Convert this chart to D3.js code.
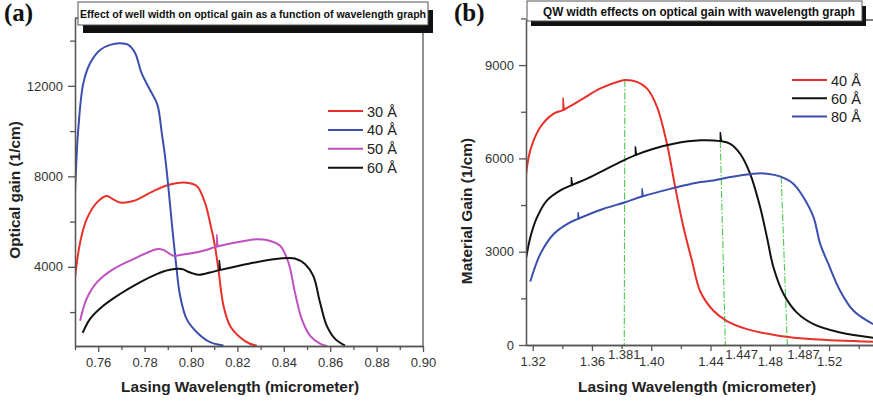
<!DOCTYPE html>
<html>
<head>
<meta charset="utf-8">
<script src="https://cdn.jsdelivr.net/npm/d3@7"></script>
<style>
body{margin:0;background:#fff}
svg{display:block;font-family:"Liberation Sans",Arial,sans-serif}
</style>
</head>
<body>
<div id="chart"></div>
<script>
// ---- panel (a) data : [wavelength (um), optical gain (1/cm)]
var labelsA = ["30 Å", "40 Å", "50 Å", "60 Å"];
var colorsA = ["#e8302a", "#3a4fae", "#c050c0", "#111111"];
var gain30 = [[0.750,3530],[0.7522,5075],[0.755,6100],[0.7594,6840],[0.7637,7130],[0.7665,6980],[0.7695,6840],[0.7751,6910],[0.7838,7350],[0.7909,7640],[0.7981,7720],[0.8025,7570],[0.806,6840],[0.8082,5960],[0.8103,4930],[0.8118,3900],[0.814,2280],[0.8168,1400],[0.8211,890],[0.8254,600],[0.8283,520]];
var gain40 = [[0.750,7280],[0.7514,10070],[0.7536,12120],[0.7565,13000],[0.7608,13590],[0.7651,13810],[0.7694,13880],[0.773,13810],[0.7759,13450],[0.7787,12560],[0.7823,11830],[0.7855,11170],[0.7874,9920],[0.7888,8890],[0.7902,7570],[0.7917,5960],[0.7935,4190],[0.7953,2720],[0.7981,1700],[0.8025,1110],[0.8082,670],[0.814,520]];
var gain50 = [[0.7522,1620],[0.755,2580],[0.7594,3310],[0.7665,3900],[0.7766,4410],[0.7852,4780],[0.7881,4750],[0.7924,4490],[0.7953,4520],[0.8053,4710],[0.8111,4895],[0.8254,5190],[0.8283,5220],[0.8326,5190],[0.8384,4930],[0.842,4190],[0.8448,2870],[0.8477,1700],[0.8513,960],[0.8556,600],[0.8585,500]];
var gain60 = [[0.7533,1080],[0.7565,1700],[0.7622,2280],[0.7694,2800],[0.7766,3240],[0.7852,3680],[0.7909,3870],[0.796,3900],[0.7996,3750],[0.8031,3650],[0.8082,3750],[0.8122,3855],[0.8254,4150],[0.8384,4370],[0.8448,4370],[0.8491,4120],[0.8527,3600],[0.8556,2430],[0.8585,1400],[0.8621,815],[0.8664,520]];
// glitches on the curves: [wavelength, base gain, top gain]
var spike30 = [];
var spike40 = [];
var spike50 = [[0.8111, 4870, 5440]];
var spike60 = [[0.8122, 3830, 4300]];
var xTicksA = [0.76,0.78,0.80,0.82,0.84,0.86,0.88,0.90];
var xMinorA = [0.75,0.77,0.79,0.81,0.83,0.85,0.87,0.89];
var yTicksA = [4000,8000,12000];
var yMinorA = [2000,6000,10000,14000];

// ---- panel (b) data : [wavelength (um), material gain (1/cm)]
var labelsB = ["40 Å", "60 Å", "80 Å"];
var colorsB = ["#e8302a", "#111111", "#3a4fae"];
var gainB40 = [[1.3151,5290],[1.3184,6260],[1.3252,7010],[1.3342,7440],[1.3405,7555],[1.3522,7870],[1.3657,8250],[1.3791,8490],[1.3825,8520],[1.3904,8460],[1.3971,8250],[1.4039,7660],[1.4106,6470],[1.4162,5070],[1.4218,3780],[1.4275,2710],[1.4331,1720],[1.442,1100],[1.4511,770],[1.4646,510],[1.4869,290],[1.5095,185],[1.5497,105]];
var gainB60 = [[1.3151,2660],[1.3184,3460],[1.323,4110],[1.3297,4650],[1.3387,4970],[1.3461,5135],[1.3567,5350],[1.3702,5670],[1.3825,5960],[1.3893,6105],[1.4016,6310],[1.4151,6470],[1.4331,6580],[1.4466,6555],[1.4533,6470],[1.46,6150],[1.4667,5510],[1.4735,4430],[1.4781,3460],[1.4825,2490],[1.4893,1640],[1.4983,1040],[1.5095,670],[1.5275,400],[1.5497,235]];
var gainB80 = [[1.3184,2040],[1.3252,2930],[1.3342,3570],[1.3432,3890],[1.3506,4055],[1.3679,4380],[1.3825,4590],[1.3938,4775],[1.4129,5020],[1.4331,5240],[1.442,5290],[1.4533,5400],[1.469,5510],[1.4781,5510],[1.4869,5420],[1.496,5180],[1.5027,4750],[1.5095,4110],[1.514,3250],[1.5196,2600],[1.5275,1740],[1.5365,1100],[1.5497,670]];
var spikeB40 = [[1.3405, 7540, 7960]];
var spikeB60 = [[1.3461, 5120, 5400], [1.3893, 6090, 6390], [1.4466, 6540, 6850]];
var spikeB80 = [[1.3506, 4040, 4270], [1.3938, 4760, 5040]];
var xTicksB = [1.32,1.36,1.40,1.44,1.48,1.52];
var xMinorB = [1.34,1.38,1.42,1.46,1.50,1.54];
var yTicksB = [0,3000,6000,9000];
var yMinorB = [1500,4500,7500,10500];
// peak markers (green dash-dot lines)
var markLabels = ["1.381", "1.447", "1.487"];
var markTopX = [1.3822, 1.4466, 1.4877];
var markTopY = [8520, 6560, 5420];
var markBottomX = [1.3818, 1.4500, 1.4918];

var W = 873, H = 401;
var svg = d3.select("#chart").append("svg").attr("width", W).attr("height", H);

function drawPanel(p){
	var x = d3.scaleLinear().domain(p.xDomain).range([p.left, p.right]);
	var y = d3.scaleLinear().domain(p.yDomain).range([p.bottom, p.top]);
	var g = svg.append("g");

	g.append("clipPath").attr("id", p.id + "clip")
	  .append("rect").attr("x", p.left).attr("y", p.top)
	  .attr("width", p.right - p.left).attr("height", p.bottom - p.top);

	// frame
	g.append("line").attr("x1", p.left).attr("x2", p.right).attr("y1", p.top).attr("y2", p.top)
	  .attr("stroke", "#555").attr("stroke-width", 1.3);
	if(p.rightFrame){
		g.append("line").attr("x1", p.right).attr("x2", p.right).attr("y1", p.top).attr("y2", p.bottom)
		  .attr("stroke", "#555").attr("stroke-width", 1.3);
	}

	var line = d3.line().x(function(d){ return x(d[0]); }).y(function(d){ return y(d[1]); })
	  .curve(d3.curveCatmullRom.alpha(0.5));

	var plot = g.append("g").attr("clip-path", "url(#" + p.id + "clip)");

	if(p.marks){
		p.marks.forEach(function(m){
			plot.append("line")
			  .attr("x1", x(m.topX)).attr("y1", y(m.topY))
			  .attr("x2", x(m.bottomX)).attr("y2", y(p.yDomain[0]))
			  .attr("stroke", "#4cc94c").attr("stroke-width", 1.1)
			  .attr("stroke-dasharray", "7,2,1.5,2");
		});
	}

	p.series.forEach(function(s, i){
		plot.append("path").datum(s)
		  .attr("d", line)
		  .attr("fill", "none")
		  .attr("stroke", p.colors[i])
		  .attr("stroke-width", 2);
		p.spikes[i].forEach(function(sp){
			plot.append("path")
			  .attr("d", "M" + x(sp[0]) + "," + y(sp[1]) + "V" + y(sp[2]) + "L" + (x(sp[0]) + 1.2) + "," + y(sp[1]))
			  .attr("fill", p.colors[i])
			  .attr("stroke", p.colors[i])
			  .attr("stroke-width", 1.4);
		});
	});

	// axes
	var xMinor = d3.axisBottom(x).tickValues(p.xMinor).tickSize(4).tickSizeOuter(0).tickFormat("");
	var xMajor = d3.axisBottom(x).tickValues(p.xTicks).tickSize(6).tickSizeOuter(0).tickPadding(6).tickFormat(d3.format(".2f"));
	var yMinor = d3.axisLeft(y).tickValues(p.yMinor).tickSize(5).tickSizeOuter(0).tickFormat("");
	var yMajor = d3.axisLeft(y).tickValues(p.yTicks).tickSize(7).tickSizeOuter(0).tickPadding(p.yPad).tickFormat(d3.format("d"));

	[xMinor, xMajor].forEach(function(ax){
		g.append("g").attr("class", "axis").attr("transform", "translate(0," + p.bottom + ")").call(ax);
	});
	[yMinor, yMajor].forEach(function(ax){
		g.append("g").attr("class", "axis").attr("transform", "translate(" + p.left + ",0)").call(ax);
	});

	g.selectAll(".axis path, .axis line").attr("stroke", "#555").attr("stroke-width", 1.3);
	g.selectAll(".axis text").attr("font-size", 13).attr("fill", "#333")
	  .attr("font-family", "'Liberation Sans',Arial,sans-serif");

	if(p.marks){
		p.marks.forEach(function(m){
			g.append("text").attr("x", x(m.bottomX)).attr("y", p.bottom + 14)
			  .attr("text-anchor", m.anchor)
			  .attr("font-size", 13).attr("fill", "#333").text(m.label);
		});
	}

	// axis titles
	g.append("text").attr("x", p.xTitleX).attr("y", 391.5)
	  .attr("text-anchor", "middle").attr("font-weight", "bold").attr("font-size", 15.4)
	  .attr("fill", "#222").text(p.xTitle);
	g.append("text").attr("transform", "translate(" + p.yTitleX + "," + p.yTitleY + ") rotate(-90)")
	  .attr("text-anchor", "middle").attr("font-weight", "bold").attr("font-size", 15.4)
	  .attr("fill", "#222").text(p.yTitle);

	// legend
	p.labels.forEach(function(lab, i){
		var ly = p.legY + i * p.legStep;
		g.append("line").attr("x1", p.legX).attr("x2", p.legX + 35).attr("y1", ly).attr("y2", ly)
		  .attr("stroke", p.colors[i]).attr("stroke-width", 2);
		g.append("text").attr("x", p.legX + 39).attr("y", ly + 5.5)
		  .attr("font-size", 14.5).attr("fill", "#222").text(lab);
	});

	// title box with shadow
	var b = p.box;
	g.append("rect").attr("x", b.x + b.sx).attr("y", b.y + b.sy).attr("width", b.w).attr("height", b.h).attr("fill", "#111");
	g.append("rect").attr("x", b.x).attr("y", b.y).attr("width", b.w).attr("height", b.h)
	  .attr("fill", "#fff").attr("stroke", "#555").attr("stroke-width", 1);
	g.append("text").attr("x", b.tx).attr("y", b.ty)
	  .attr("font-weight", "bold").attr("font-size", b.fs).attr("fill", "#111")
	  .attr("textLength", b.tl).attr("lengthAdjust", "spacingAndGlyphs").text(b.text);

	// panel letter
	g.append("text").attr("x", p.letterX).attr("y", 21)
	  .attr("font-family", "'Liberation Serif','Times New Roman',serif")
	  .attr("font-weight", "bold").attr("font-size", 25).attr("fill", "#111").text(p.letter);
}

drawPanel({
	id: "a", letter: "(a)", letterX: 4,
	xDomain: [0.75, 0.90], yDomain: [500, 15000],
	left: 75, right: 423, top: 18, bottom: 346, rightFrame: true,
	series: [gain30, gain40, gain50, gain60], spikes: [spike30, spike40, spike50, spike60],
	colors: colorsA, labels: labelsA,
	xTicks: xTicksA, xMinor: xMinorA, yTicks: yTicksA, yMinor: yMinorA, yPad: 5,
	xTitle: "Lasing Wavelength (micrometer)", xTitleX: 240,
	yTitle: "Optical gain (1/cm)", yTitleX: 20, yTitleY: 190,
	legX: 328, legY: 111, legStep: 18.9,
	box: {x: 78, y: 2, w: 350, h: 23, sx: 5, sy: 8, tx: 80, ty: 18, fs: 11.5, tl: 346,
	      text: "Effect of well width on optical gain as a function of wavelength graph"}
});

drawPanel({
	id: "b", letter: "(b)", letterX: 454,
	xDomain: [1.3155, 1.552], yDomain: [0, 10450],
	left: 526, right: 876.5, top: 20, bottom: 345, rightFrame: false,
	series: [gainB40, gainB60, gainB80], spikes: [spikeB40, spikeB60, spikeB80],
	colors: colorsB, labels: labelsB,
	xTicks: xTicksB, xMinor: xMinorB, yTicks: yTicksB, yMinor: yMinorB, yPad: 5,
	xTitle: "Lasing Wavelength (micrometer)", xTitleX: 697,
	yTitle: "Material Gain (1/cm)", yTitleX: 472, yTitleY: 211,
	legX: 792, legY: 80, legStep: 18.3,
	marks: markLabels.map(function(l, i){
		return {label: l, topX: markTopX[i], topY: markTopY[i], bottomX: markBottomX[i], anchor: i == 0 ? "middle" : "start"};
	}),
	box: {x: 527, y: 1, w: 335, h: 20, sx: 4, sy: 5, tx: 543, ty: 15.5, fs: 12, tl: 312,
	      text: "QW width effects on optical gain with wavelength graph"}
});
</script>
</body>
</html>
